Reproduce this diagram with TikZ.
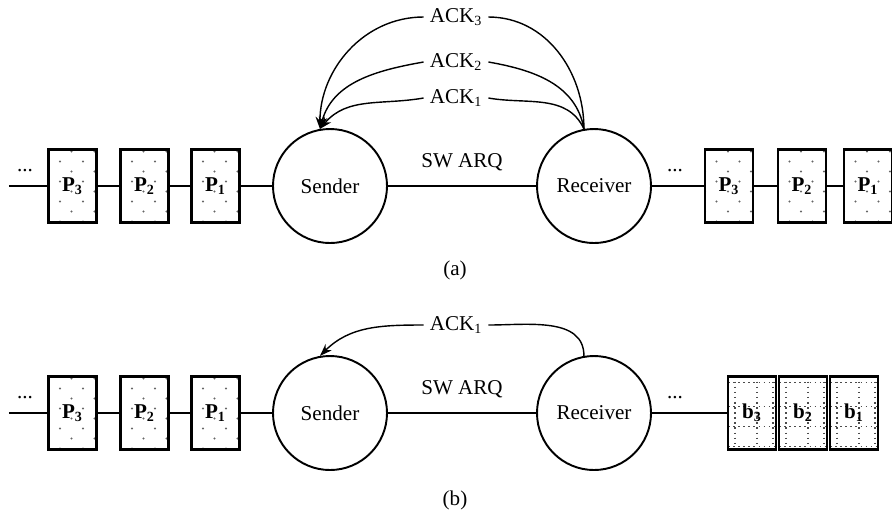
\documentclass[tikz,border=0pt]{standalone}
\usepackage{fontspec}
\setmainfont{Liberation Serif}
\usetikzlibrary{positioning, calc, arrows.meta}

\tikzset{
  station/.style={draw, circle, line width=1.1pt, minimum size=2.28cm, inner sep=0pt},
  pkt/.style={draw, line width=1.5pt, minimum width=0.96cm, minimum height=1.46cm, inner sep=0pt,
    path picture={
      \foreach \r in {0,...,7}{
        \foreach \c in {0,...,2}{
          \fill[gray!80!black] ($(path picture bounding box.north west)+({\c*0.46+mod(\r,2)*0.23},{-0.04-\r*0.2})$) circle (0.022);
        }
      }
    }},
  blk/.style={draw, line width=1.5pt, minimum width=0.96cm, minimum height=1.46cm, inner sep=0pt,
    path picture={
      \foreach \dx in {0.14,0.58,0.9}
        \draw[gray!60!black, dotted, line width=0.9pt] ($(path picture bounding box.north west)+(\dx,0)$) -- ++(0,-1.5);
      \foreach \dy in {0.12,0.6,1.0,1.4}
        \draw[gray!60!black, dotted, line width=0.9pt] ($(path picture bounding box.north west)+(0,-\dy)$) -- ++(1,0);
    }},
  link/.style={line width=1.1pt},
  ack/.style={line width=0.8pt},
}

\begin{document}
\begin{tikzpicture}[font=\fontsize{12}{14.4}\selectfont, >={Stealth[length=7pt,width=5pt]}]
    \useasboundingbox (0,0) rectangle (17.84,-10.32);

    % (a) stop-and-wait, one ACK per packet
    \node[station] (snd) at (6.6,-3.72) {Sender};
    \node[station] (rcv) at (11.88,-3.72) {Receiver};
    \node[pkt] (p1) at (4.31,-3.72) {\textbf{P\textsubscript{1}}};
    \node[pkt] (p2) at (2.89,-3.72) {\textbf{P\textsubscript{2}}};
    \node[pkt] (p3) at (1.45,-3.72) {\textbf{P\textsubscript{3}}};
    \node[pkt] (rp3) at (14.58,-3.72) {\textbf{P\textsubscript{3}}};
    \node[pkt] (rp2) at (16.04,-3.72) {\textbf{P\textsubscript{2}}};
    \node[pkt] (rp1) at (17.36,-3.72) {\textbf{P\textsubscript{1}}};
    \coordinate (lend) at (0.18,-3.72);
    \node[anchor=base] (ldots) at (0.5,-3.42) {...};
    \node[anchor=base] (rdots) at (13.5,-3.42) {...};
    \node (arq) at (9.24,-3.24) {SW ARQ};

    \draw[link] (lend) -- (p3) -- (p2) -- (p1) -- (snd) -- (rcv) -- (rp3) -- (rp2) -- (rp1);

    \node (ack3) at (9.12,-0.34) {ACK\textsubscript{3}};
    \node (ack2) at (9.12,-1.24) {ACK\textsubscript{2}};
    \node (ack1) at (9.12,-1.96) {ACK\textsubscript{1}};
    \draw[ack] (rcv.100) to[out=90,in=0] (ack3.east);
    \draw[ack,->] (ack3.west) to[out=180,in=90] (snd.100);
    \draw[ack] (rcv.100) to[out=100,in=-10] (ack2.east);
    \draw[ack,->] (ack2.west) to[out=190,in=75] (snd.100);
    \draw[ack] (rcv.100) to[out=115,in=-10] (ack1.east);
    \draw[ack,->] (ack1.west) to[out=190,in=50] (snd.100);

    \node (capa) at (9.1,-5.4) {(a)};

    % (b) packets gathered into a block
    \node[station] (bsnd) at (6.6,-8.26) {Sender};
    \node[station] (brcv) at (11.88,-8.26) {Receiver};
    \node[pkt] (bp1) at (4.31,-8.26) {\textbf{P\textsubscript{1}}};
    \node[pkt] (bp2) at (2.89,-8.26) {\textbf{P\textsubscript{2}}};
    \node[pkt] (bp3) at (1.45,-8.26) {\textbf{P\textsubscript{3}}};
    \node[blk] (b3) at (15.04,-8.26) {\textbf{b\textsubscript{3}}};
    \node[blk] (b2) at (16.06,-8.26) {\textbf{b\textsubscript{2}}};
    \node[blk] (b1) at (17.08,-8.26) {\textbf{b\textsubscript{1}}};
    \coordinate (blend) at (0.18,-8.26);
    \node[anchor=base] (bldots) at (0.5,-7.96) {...};
    \node[anchor=base] (brdots) at (13.5,-7.96) {...};
    \node (barq) at (9.24,-7.78) {SW ARQ};

    \draw[link] (blend) -- (bp3) -- (bp2) -- (bp1) -- (bsnd) -- (brcv) -- (b3);

    \node (back1) at (9.12,-6.5) {ACK\textsubscript{1}};
    \draw[ack] (brcv.100) to[out=90,in=0] (back1.east);
    \draw[ack,->] (back1.west) to[out=180,in=45] (bsnd.100);

    \node (capb) at (9.1,-10.0) {(b)};

\end{tikzpicture}
\end{document}
